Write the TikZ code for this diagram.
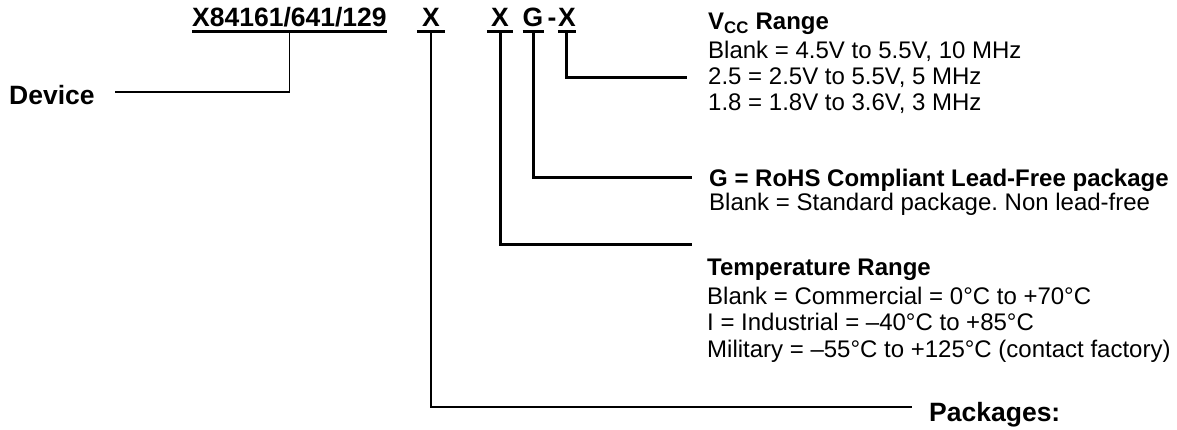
\documentclass[tikz,border=0pt]{standalone}
\usepackage{fontspec}
\setmainfont{Liberation Sans}
\frenchspacing
\begin{document}
\begin{tikzpicture}[x=1pt,y=-1pt,
  lbl/.style={inner sep=0pt, anchor=base west, font=\fontsize{26.5}{30}\selectfont\bfseries},
  code/.style={inner sep=0pt, anchor=base, font=\fontsize{26.5}{30}\selectfont\bfseries},
  hd/.style={inner sep=0pt, anchor=base west, font=\fontsize{24}{28}\selectfont\bfseries},
  txt/.style={inner sep=0pt, anchor=base west, font=\fontsize{24}{28}\selectfont},
  thinline/.style={line width=1.2pt},
  thickline/.style={line width=3pt},
  ulline/.style={line width=2.5pt}]
\useasboundingbox (0,0) rectangle (1177,430);
% part code
\node[lbl] (dev) at (192,27) {X84161/641/129};
\node[code] (x1) at (431,27) {X};
\node[code] (x2) at (500,27) {X};
\node[code] (g) at (533,27) {G};
\node[code] (dash) at (552,27) {-};
\node[code] (x3) at (567,27) {X};
% underlines
\draw[ulline] ([yshift=-4.5pt]dev.base west) -- ([yshift=-4.5pt]dev.base east);
\draw[ulline] ([xshift=-5pt,yshift=-4.5pt]x1.base west) -- ([xshift=5pt,yshift=-4.5pt]x1.base east);
\draw[ulline] ([xshift=-4pt,yshift=-4.5pt]x2.base west) -- ([xshift=4pt,yshift=-4.5pt]x2.base east);
\draw[ulline] ([yshift=-4.5pt]g.base west) -- ([yshift=-4.5pt]g.base east);
\draw[ulline] ([yshift=-4.5pt]x3.base west) -- ([yshift=-4.5pt]x3.base east);
% labels
\node[lbl] (device) at (9,104.5) {Device};
\node[hd] (vcc) at (708,29.5) {V\textsubscript{CC} Range};
\node[txt] (v1) at (708,58.5) {Blank = 4.5V to 5.5V, 10 MHz};
\node[txt] (v2) at (708,85) {2.5 = 2.5V to 5.5V, 5 MHz};
\node[txt] (v3) at (708,111) {1.8 = 1.8V to 3.6V, 3 MHz};
\node[hd] (gh) at (709,186.5) {G = RoHS Compliant Lead-Free package};
\node[txt] (g1) at (709,211) {Blank = Standard package. Non lead-free};
\node[hd] (th) at (707,276) {Temperature Range};
\node[txt] (t1) at (707,304) {Blank = Commercial = 0°C to +70°C};
\node[txt] (t2) at (707,330.5) {I = Industrial = –40°C to +85°C};
\node[txt] (t3) at (707,357) {Military = –55°C to +125°C (contact factory)};
\node[lbl] (pk) at (929,421) {Packages:};
% free ends of connectors
\coordinate (devend) at (115,92);
\coordinate (vccend) at (687,78);
\coordinate (gend) at (692,178);
\coordinate (tend) at (692,245);
\coordinate (pkend) at (912,407);
% connectors
\draw[thinline] ([yshift=-4.5pt]dev.base) |- (devend);
\draw[thinline] ([yshift=-4.5pt]x1.base) |- (pkend);
\draw[thickline] ([yshift=-4.5pt]x2.base) |- (tend);
\draw[thickline] ([yshift=-4.5pt]g.base) |- (gend);
\draw[thickline] ([xshift=-1pt,yshift=-4.5pt]x3.base) |- (vccend);
\end{tikzpicture}
\end{document}
